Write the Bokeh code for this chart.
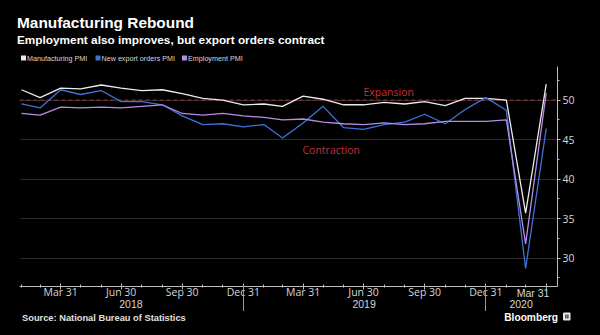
import pandas as pd
from bokeh.plotting import figure
from bokeh.models import (FixedTicker, Span, Label, Range1d, ColumnDataSource, GridBox, Div)
from bokeh.embed import file_html
from bokeh.resources import INLINE

# ---------------- data ----------------
months = pd.date_range("2018-01-31", "2020-03-31", freq="ME")
manufacturing_pmi = [51.3, 50.3, 51.5, 51.4, 51.9, 51.5, 51.2, 51.3, 50.8, 50.2, 50.0, 49.4,
                     49.5, 49.2, 50.5, 50.1, 49.4, 49.4, 49.7, 49.5, 49.8, 49.3, 50.2, 50.2,
                     50.0, 35.7, 52.0]
export_orders_pmi = [49.5, 49.0, 51.3, 50.7, 51.2, 49.8, 49.8, 49.4, 48.0, 46.9, 47.0, 46.6,
                     46.9, 45.2, 47.1, 49.2, 46.5, 46.3, 46.9, 47.2, 48.2, 47.0, 48.8, 50.3,
                     48.7, 28.7, 46.4]
employment_pmi = [48.3, 48.1, 49.1, 49.0, 49.1, 49.0, 49.2, 49.4, 48.3, 48.1, 48.3, 48.0,
                  47.8, 47.5, 47.6, 47.2, 47.0, 46.9, 47.1, 46.9, 47.0, 47.3, 47.3, 47.3,
                  47.5, 31.8, 50.9]
series_names = ["Manufacturing PMI", "New export orders PMI", "Employment PMI"]
series_colors = ["#ececec", "#3f72d9", "#b88ce6"]

y_ticks = [30, 35, 40, 45, 50]
y_minor_ticks = [27.5, 32.5, 37.5, 42.5, 47.5, 52.5]
quarter_ends = ["2018-03-31", "2018-06-30", "2018-09-30", "2018-12-31",
                "2019-03-31", "2019-06-30", "2019-09-30", "2019-12-31", "2020-03-31"]
quarter_labels = ["Mar 31", "Jun 30", "Sep 30", "Dec 31",
                  "Mar 31", "Jun 30", "Sep 30", "Dec 31", "Mar 31"]
year_labels = ["2018", "2019", "2020"]
year_breaks = ["2018-12-31", "2019-12-31"]
threshold = 50

title = "Manufacturing Rebound"
subtitle = "Employment also improves, but export orders contract"
source_note = "Source: National Bureau of Statistics"

x_start, x_end = pd.Timestamp("2018-01-28"), pd.Timestamp("2020-04-17")
y_start, y_end = 26.42, 54.24

# ---------------- layout geometry ----------------
W, H = 600, 335
FL, FR, FT, FB = 19, 557, 66, 286   # plot frame in page pixels
TXT = "#d6d6d6"
AX = "#bdbdbd"


def ms(d):
    return pd.Timestamp(d).value / 1e6


X0, X1 = ms(x_start), ms(x_end)


def date_px(m):
    return FL + (m - X0) / (X1 - X0) * (FR - FL)


# ---------------- main chart ----------------
src = ColumnDataSource(dict(date=months, m=manufacturing_pmi,
                            e=export_orders_pmi, emp=employment_pmi))

p = figure(width=W, height=H, x_axis_type="datetime", y_axis_location="right",
           x_range=Range1d(x_start, x_end), y_range=Range1d(y_start, y_end),
           toolbar_location=None, output_backend="svg",
           min_border_left=FL, min_border_right=W - FR,
           min_border_top=FT, min_border_bottom=H - FB,
           background_fill_color="black", border_fill_color="black")
p.outline_line_color = None
p.xgrid.visible = False
p.ygrid.grid_line_color = "#2c2c2c"
p.ygrid.grid_line_width = 1.2

p.yaxis.ticker = FixedTicker(ticks=y_ticks, minor_ticks=y_minor_ticks)
p.yaxis.axis_line_color = AX
p.yaxis.major_tick_line_color = AX
p.yaxis.minor_tick_line_color = AX
p.yaxis.major_tick_in = 0
p.yaxis.major_tick_out = 3
p.yaxis.minor_tick_in = 0
p.yaxis.minor_tick_out = 2
p.yaxis.major_label_standoff = 2
p.yaxis.major_label_text_color = TXT
p.yaxis.major_label_text_font = "Open Sans"
p.yaxis.major_label_text_font_size = "10.5px"

q_ms = [ms(d) for d in quarter_ends]
p.xaxis.ticker = FixedTicker(ticks=q_ms, minor_ticks=[ms(d) for d in months])
overrides = {v: t for v, t in zip(q_ms, quarter_labels)}
overrides[q_ms[-1]] = ""      # last label is drawn shifted left, as in the original
p.xaxis.major_label_overrides = overrides
p.xaxis.axis_line_color = AX
p.xaxis.major_tick_line_color = AX
p.xaxis.minor_tick_line_color = AX
p.xaxis.major_tick_in = 3
p.xaxis.major_tick_out = 3
p.xaxis.minor_tick_in = 2
p.xaxis.minor_tick_out = 1
p.xaxis.major_label_standoff = -5
p.xaxis.major_label_text_color = TXT
p.xaxis.major_label_text_font = "Open Sans"
p.xaxis.major_label_text_font_size = "10.5px"

p.add_layout(Span(location=threshold, dimension="width", line_color="#8a2c2c",
                  line_dash="4 3", line_width=1.3, level="underlay"))

p.line("date", "m", source=src, color=series_colors[0], line_width=1.3)
p.line("date", "e", source=src, color=series_colors[1], line_width=1.3)
p.line("date", "emp", source=src, color=series_colors[2], line_width=1.3)


def px_x(px):
    return X0 + (px - FL) / (FR - FL) * (X1 - X0)


def px_y(py):
    return y_end - (py - FT) / (FB - FT) * (y_end - y_start)


p.add_layout(Label(x=px_x(363), y=px_y(98), text="Expansion", text_color="#c0303f",
                   text_font="Open Sans", text_font_size="10.5px"))
p.add_layout(Label(x=px_x(302), y=px_y(156.3), text="Contraction", text_color="#c0303f",
                   text_font="Open Sans", text_font_size="10.5px"))

# ---------------- overlay (inline SVG) for everything outside the plot frame ----------------
parts = []


def svg_text(x, y, s, size, color=TXT, font="Open Sans", weight="normal", anchor="start"):
    parts.append(f'<text x="{x:.1f}" y="{y:.1f}" font-family="{font}" font-size="{size}" '
                 f'font-weight="{weight}" fill="{color}" text-anchor="{anchor}">{s}</text>')


svg_text(17, 28, title, 15.4, "white", "Lato", "bold")
svg_text(17, 43.5, subtitle, 11.8, "white", "Lato", "bold")
legend_x = [21, 95.5, 182]
for lx, name, color in zip(legend_x, series_names, series_colors):
    parts.append(f'<rect x="{lx}" y="55.5" width="5" height="5" fill="{color}"/>')
    svg_text(lx + 6, 61, name, 7.2, TXT, "Lato")

bounds = [X0] + [ms(d) for d in year_breaks] + [X1]
for i, yl in enumerate(year_labels):
    svg_text(date_px((bounds[i] + bounds[i + 1]) / 2), 308, yl, 10.5, anchor="middle")
for d in year_breaks:
    sx = round(date_px(ms(d))) + 0.5
    parts.append(f'<line x1="{sx}" y1="{FB}" x2="{sx}" y2="311" stroke="#9a9a9a" stroke-width="1"/>')
svg_text(533, 297, quarter_labels[-1], 10.5, anchor="middle")

svg_text(22, 321, source_note, 9.3, "#e0e0e0", "Open Sans", "bold")
svg_text(558, 320.5, "Bloomberg", 10.2, "white", "Open Sans", "bold", "end")
parts.append('<rect x="563" y="312.5" width="7.5" height="8" rx="1" fill="#e8e8e8"/>')
parts.append('<rect x="565.3" y="314.5" width="1.2" height="4" fill="#222"/>'
             '<rect x="567.3" y="314.5" width="1.2" height="4" fill="#222"/>')

svg = (f'<svg xmlns="http://www.w3.org/2000/svg" width="{W}" height="{H}" '
       f'style="position:absolute;left:0;top:0;pointer-events:none">' + "".join(parts) + "</svg>")
overlay = Div(text=svg, width=W, height=H, styles={"position": "relative", "margin": "0",
                                                    "padding": "0"})

layout = GridBox(children=[(p, 0, 0), (overlay, 0, 0)], styles={"background-color": "black"})
open("out.html", "w").write(file_html(layout, INLINE))
